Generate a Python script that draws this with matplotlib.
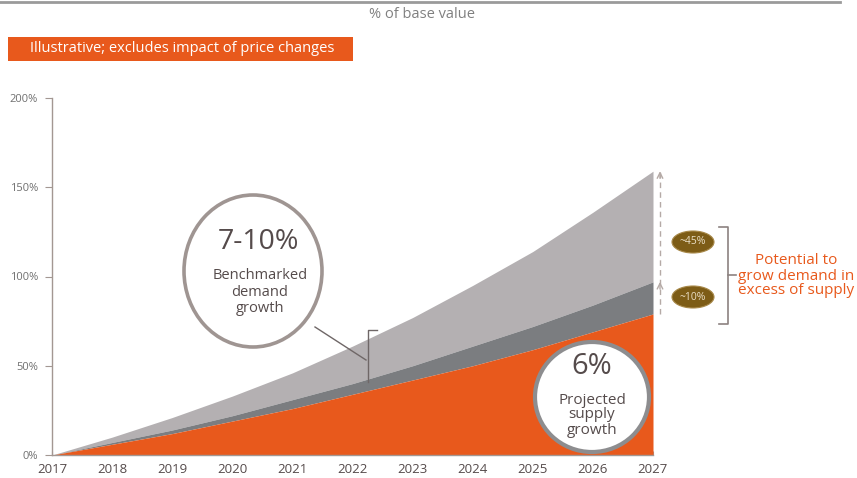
import matplotlib

matplotlib.use("Agg")
import matplotlib.pyplot as plt
from matplotlib.patches import Ellipse, Rectangle
from matplotlib.lines import Line2D

plt.rcParams.update({"font.family": ["Open Sans", "DejaVu Sans"]})

# ---------------------------------------------------------------------------
# Data: cumulative growth, % of base value
# ---------------------------------------------------------------------------
years = [2017, 2018, 2019, 2020, 2021, 2022, 2023, 2024, 2025, 2026, 2027]
supply_6 = [0, 6, 12, 19, 26, 34, 42, 50, 59, 69, 79]
demand_7 = [0, 7, 14, 22, 31, 40, 50, 61, 72, 84, 97]
demand_10 = [0, 10, 21, 33, 46, 61, 77, 95, 114, 136, 159]

y_ticks = [0, 50, 100, 150, 200]
y_tick_labels = ["0%", "50%", "100%", "150%", "200%"]

badge_labels = ["~45%", "~10%"]

ORANGE = "#e8591c"
LIGHT_GREY = "#b4b0b2"
DARK_GREY = "#7b7d80"
AXIS_COL = "#a39792"
TEXT_COL = "#554b4b"

W, H = 857, 478
fig = plt.figure(figsize=(W / 100, H / 100), dpi=100)

# axes box in pixels: x 52..653, y(top) 98..455
X0, X1, Y0, Y1 = 52, 653, 455, 98
ax = fig.add_axes([X0 / W, (H - Y0) / H, (X1 - X0) / W, (Y0 - Y1) / H])
ax.set_xlim(2017, 2027)
ax.set_ylim(0, 200)

px_per_year = (X1 - X0) / 10
px_per_pct = (Y0 - Y1) / 200


def to_data(px, py):
    """Pixel position (from top-left) to data coordinates."""
    return 2017 + (px - X0) / px_per_year, (Y0 - py) / px_per_pct


ax.fill_between(years, demand_7, demand_10, color=LIGHT_GREY, lw=0, zorder=1)
ax.fill_between(years, supply_6, demand_7, color=DARK_GREY, lw=0, zorder=1)
ax.fill_between(years, 0, supply_6, color=ORANGE, lw=0, zorder=2)

for s in ["top", "right"]:
    ax.spines[s].set_visible(False)
for s in ["left", "bottom"]:
    ax.spines[s].set_color(AXIS_COL)
    ax.spines[s].set_linewidth(1.0)

ax.set_yticks(y_ticks)
ax.set_yticklabels(y_tick_labels, fontsize=8, color="#707070")
ax.set_xticks(years)
ax.set_xticklabels([str(y) for y in years], fontsize=9.5, color=TEXT_COL)
ax.tick_params(axis="y", length=5, color=AXIS_COL, pad=5)
ax.tick_params(axis="x", length=3, color=AXIS_COL, direction="in", pad=6)

# Benchmarked demand circle
cx, cy = to_data(253, 271)
ax.add_patch(
    Ellipse((cx, cy), 138 / px_per_year, 152 / px_per_pct, facecolor="white",
            edgecolor="#978c89", lw=2.6, alpha=0.92, zorder=5, clip_on=False)
)
tx, ty = to_data(258, 242)
ax.text(tx, ty, "7-10%", fontsize=20.5, color=TEXT_COL, ha="center", va="center", zorder=6)
tx, ty = to_data(260, 292)
ax.text(tx, ty, "Benchmarked\ndemand\ngrowth", fontsize=10.5, color=TEXT_COL,
        ha="center", va="center", linespacing=1.1, zorder=6)

# leader line and bracket
lx0, ly0 = to_data(315, 327)
lx1, ly1 = to_data(366, 360)
ax.plot([lx0, lx1], [ly0, ly1], color="#6f6767", lw=1.0, zorder=6, clip_on=False)
bx, by_top = to_data(368, 330)
_, by_bot = to_data(368, 382)
bx2, _ = to_data(377, 330)
ax.plot([bx2, bx, bx], [by_top, by_top, by_bot], color="#6f6767", lw=1.0, zorder=6)

# Projected supply circle
cx, cy = to_data(592, 397)
ax.add_patch(
    Ellipse((cx, cy), 114 / px_per_year, 110 / px_per_pct, facecolor="white",
            edgecolor="#8d8d8f", lw=3.0, zorder=5, clip_on=False)
)
tx, ty = to_data(592, 367)
ax.text(tx, ty, "6%", fontsize=21, color=TEXT_COL, ha="center", va="center", zorder=6)
tx, ty = to_data(592, 415)
ax.text(tx, ty, "Projected\nsupply\ngrowth", fontsize=11, color=TEXT_COL,
        ha="center", va="center", linespacing=1.0, zorder=6)

# dashed arrow showing the demand gap at 2027
ax_x, _ = to_data(660, 0)
ARROW_COL = "#b5aaa6"
ax.plot([ax_x, ax_x], [supply_6[-1], demand_10[-1]], color=ARROW_COL, lw=1.0,
        ls=(0, (4, 3)), clip_on=False, zorder=3)
for top in [demand_7[-1], demand_10[-1]]:
    ax.annotate("", xy=(ax_x, top), xytext=(ax_x, top - 4),
                arrowprops=dict(arrowstyle="->", color=ARROW_COL, lw=1.0,
                                mutation_scale=10, shrinkA=0, shrinkB=0),
                annotation_clip=False)

for label, py in zip(badge_labels, [242, 297]):
    bxc, byc = to_data(693, py)
    ax.add_patch(
        Ellipse((bxc, byc), 42 / px_per_year, 22 / px_per_pct, facecolor="#7d5c16",
                edgecolor="#a8894a", lw=0.8, zorder=5, clip_on=False)
    )
    ax.text(bxc, byc, label, fontsize=7.5, color="#eadfc6", ha="center", va="center", zorder=6)

# bracket on the right
BR_COL = "#8c8280"
fig.add_artist(Line2D([719 / W, 728 / W, 728 / W, 719 / W],
                      [(H - 227) / H, (H - 227) / H, (H - 324) / H, (H - 324) / H],
                      color=BR_COL, lw=1.2))
fig.add_artist(Line2D([728 / W, 736 / W], [(H - 275) / H, (H - 275) / H],
                      color=BR_COL, lw=1.2))
fig.text(796 / W, (H - 276) / H, "Potential to\ngrow demand in\nexcess of supply",
         fontsize=11, color=ORANGE, ha="center", va="center", linespacing=1.0)

# header
fig.add_artist(Line2D([0, 840 / W], [(H - 1.5) / H, (H - 1.5) / H], color="#9a9a9a", lw=2))
fig.text(422 / W, (H - 15) / H, "% of base value", fontsize=10.5, color="#808080",
         ha="center", va="center")
fig.add_artist(Rectangle((8 / W, (H - 61) / H), 345 / W, 24 / H, facecolor=ORANGE,
                         edgecolor="none"))
fig.text(182 / W, (H - 49) / H, "Illustrative; excludes impact of price changes",
         fontsize=10.5, color="white", ha="center", va="center")

fig.savefig("out.png", dpi=100)
